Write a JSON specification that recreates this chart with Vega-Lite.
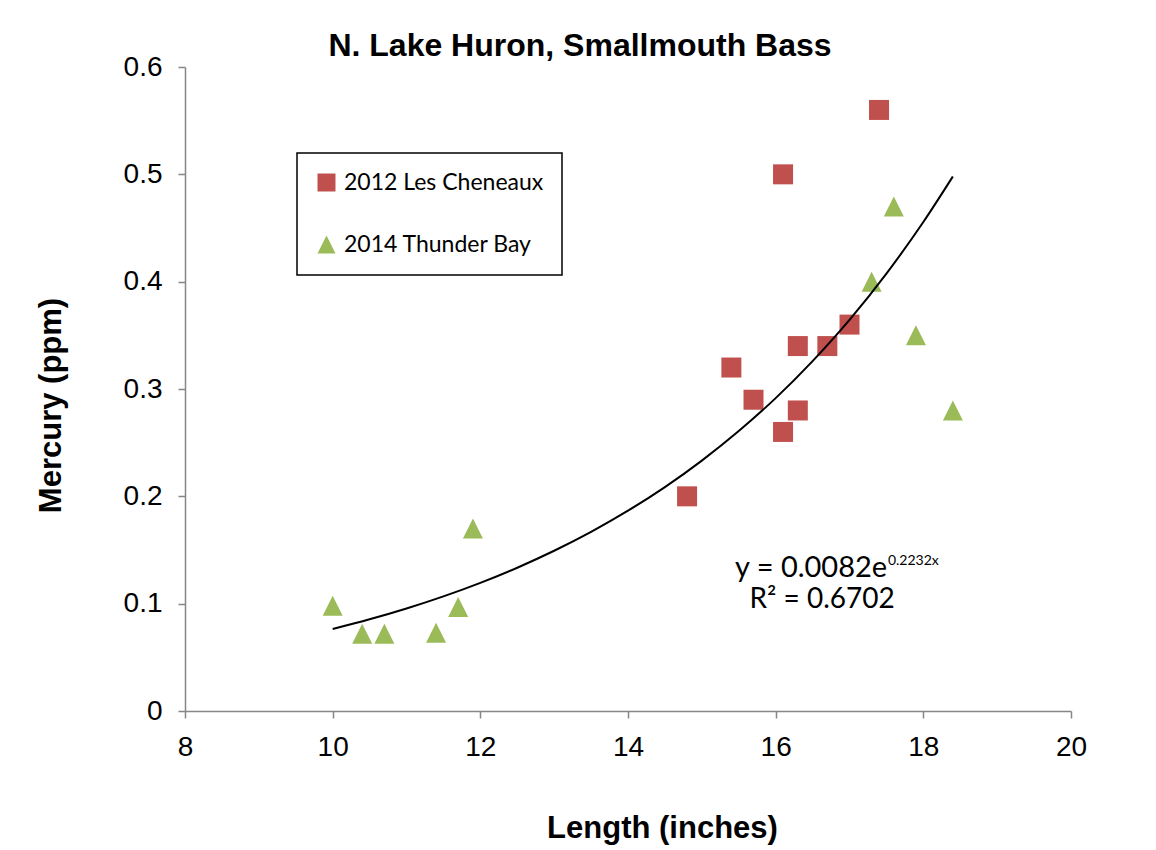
{
  "$schema": "https://vega.github.io/schema/vega-lite/v6.json",
  "width": 886,
  "height": 644,
  "autosize": {"type": "none"},
  "padding": {"left": 185, "top": 67, "right": 85, "bottom": 139},
  "background": "white",
  "title": {
    "text": "N. Lake Huron, Smallmouth Bass",
    "font": "Liberation Sans",
    "fontSize": 32,
    "fontWeight": "bold",
    "color": "black",
    "anchor": "middle",
    "frame": "group",
    "dx": -48,
    "dy": 35,
    "offset": 0,
    "baseline": "alphabetic"
  },
  "datasets": {
    "points": [
      {"series": "2012 Les Cheneaux", "length": 14.8, "mercury": 0.20},
      {"series": "2012 Les Cheneaux", "length": 15.4, "mercury": 0.32},
      {"series": "2012 Les Cheneaux", "length": 15.7, "mercury": 0.29},
      {"series": "2012 Les Cheneaux", "length": 16.1, "mercury": 0.50},
      {"series": "2012 Les Cheneaux", "length": 16.1, "mercury": 0.26},
      {"series": "2012 Les Cheneaux", "length": 16.3, "mercury": 0.34},
      {"series": "2012 Les Cheneaux", "length": 16.3, "mercury": 0.28},
      {"series": "2012 Les Cheneaux", "length": 16.7, "mercury": 0.34},
      {"series": "2012 Les Cheneaux", "length": 17.0, "mercury": 0.36},
      {"series": "2012 Les Cheneaux", "length": 17.4, "mercury": 0.56},
      {"series": "2014 Thunder Bay", "length": 10.0, "mercury": 0.098},
      {"series": "2014 Thunder Bay", "length": 10.4, "mercury": 0.072},
      {"series": "2014 Thunder Bay", "length": 10.7, "mercury": 0.072},
      {"series": "2014 Thunder Bay", "length": 11.4, "mercury": 0.073},
      {"series": "2014 Thunder Bay", "length": 11.7, "mercury": 0.097},
      {"series": "2014 Thunder Bay", "length": 11.9, "mercury": 0.17},
      {"series": "2014 Thunder Bay", "length": 17.3, "mercury": 0.40},
      {"series": "2014 Thunder Bay", "length": 17.6, "mercury": 0.47},
      {"series": "2014 Thunder Bay", "length": 17.9, "mercury": 0.35},
      {"series": "2014 Thunder Bay", "length": 18.4, "mercury": 0.28}
    ],
    "trend": [
      {"length": 10.0, "mercury": 0.0764},
      {"length": 10.5, "mercury": 0.0854},
      {"length": 11.0, "mercury": 0.0955},
      {"length": 11.5, "mercury": 0.1068},
      {"length": 12.0, "mercury": 0.1194},
      {"length": 12.5, "mercury": 0.1335},
      {"length": 13.0, "mercury": 0.1493},
      {"length": 13.5, "mercury": 0.1669},
      {"length": 14.0, "mercury": 0.1866},
      {"length": 14.5, "mercury": 0.2086},
      {"length": 15.0, "mercury": 0.2333},
      {"length": 15.5, "mercury": 0.2608},
      {"length": 16.0, "mercury": 0.2915},
      {"length": 16.5, "mercury": 0.3260},
      {"length": 17.0, "mercury": 0.3644},
      {"length": 17.5, "mercury": 0.4075},
      {"length": 18.0, "mercury": 0.4556},
      {"length": 18.4, "mercury": 0.4980}
    ],
    "one": [{}]
  },
  "layer": [
    {
      "data": {"name": "points"},
      "mark": {"type": "point", "filled": true, "opacity": 1, "size": 400, "strokeWidth": 0},
      "encoding": {
        "x": {
          "field": "length",
          "type": "quantitative",
          "scale": {"domain": [8, 20], "nice": false, "zero": false},
          "axis": {
            "values": [8, 10, 12, 14, 16, 18, 20],
            "format": "d",
            "title": "Length (inches)",
            "titleX": 477,
            "titleY": 126,
            "titleAlign": "center",
            "titleBaseline": "alphabetic"
          }
        },
        "y": {
          "field": "mercury",
          "type": "quantitative",
          "scale": {"domain": [0, 0.6], "nice": false},
          "axis": {
            "values": [0, 0.1, 0.2, 0.3, 0.4, 0.5, 0.6],
            "format": ".1~f",
            "title": "Mercury (ppm)",
            "titleX": -125,
            "titleY": 338,
            "titleAlign": "center",
            "titleBaseline": "alphabetic",
            "labelPadding": 16
          }
        },
        "color": {
          "field": "series",
          "type": "nominal",
          "scale": {"domain": ["2012 Les Cheneaux", "2014 Thunder Bay"], "range": ["#C0504D", "#9BBB59"]},
          "legend": {
            "orient": "none",
            "legendX": 112,
            "legendY": 86,
            "title": null,
            "strokeColor": "black",
            "fillColor": "white",
            "padding": 18,
            "rowPadding": 38,
            "labelFont": "Lato",
            "labelFontSize": 23,
            "labelColor": "black",
            "labelOffset": 6,
            "labelLimit": 400,
            "symbolSize": 324,
            "symbolOpacity": 1,
            "symbolStrokeWidth": 0,
            "direction": "vertical",
            "encode": {"legend": {"update": {"strokeWidth": {"value": 1.5}}}}
          }
        },
        "shape": {
          "field": "series",
          "type": "nominal",
          "scale": {"domain": ["2012 Les Cheneaux", "2014 Thunder Bay"], "range": ["square", "M0,-1L1,1L-1,1Z"]},
          "legend": {
            "orient": "none",
            "legendX": 112,
            "legendY": 86,
            "title": null,
            "strokeColor": "black",
            "fillColor": "white",
            "padding": 18,
            "rowPadding": 38,
            "labelFont": "Lato",
            "labelFontSize": 23,
            "labelColor": "black",
            "labelOffset": 6,
            "labelLimit": 400,
            "symbolSize": 324,
            "symbolOpacity": 1,
            "symbolStrokeWidth": 0,
            "direction": "vertical",
            "encode": {"legend": {"update": {"strokeWidth": {"value": 1.5}}}}
          }
        }
      }
    },
    {
      "data": {"name": "trend"},
      "mark": {"type": "line", "color": "black", "strokeWidth": 2, "interpolate": "monotone"},
      "encoding": {
        "x": {"field": "length", "type": "quantitative"},
        "y": {"field": "mercury", "type": "quantitative"}
      }
    },
    {
      "data": {"name": "one"},
      "mark": {"type": "text", "font": "Lato", "fontSize": 29, "align": "right", "baseline": "alphabetic", "color": "black"},
      "encoding": {
        "x": {"datum": 17.51, "type": "quantitative"},
        "y": {"datum": 0.1248, "type": "quantitative"},
        "text": {"value": "y = 0.0082e"}
      }
    },
    {
      "data": {"name": "one"},
      "mark": {"type": "text", "font": "Lato", "fontSize": 14, "align": "left", "baseline": "alphabetic", "color": "black"},
      "encoding": {
        "x": {"datum": 17.52, "type": "quantitative"},
        "y": {"datum": 0.136, "type": "quantitative"},
        "text": {"value": "0.2232x"}
      }
    },
    {
      "data": {"name": "one"},
      "mark": {"type": "text", "font": "Lato", "fontSize": 28, "align": "center", "baseline": "alphabetic", "color": "black"},
      "encoding": {
        "x": {"datum": 16.63, "type": "quantitative"},
        "y": {"datum": 0.096, "type": "quantitative"},
        "text": {"value": "R² = 0.6702"}
      }
    }
  ],
  "config": {
    "view": {"stroke": null},
    "font": "Liberation Sans",
    "axis": {
      "grid": false,
      "domainColor": "#868686",
      "domainWidth": 1.5,
      "tickColor": "#868686",
      "tickWidth": 1.5,
      "tickSize": 7,
      "labelFont": "Liberation Sans",
      "labelFontSize": 28,
      "labelColor": "black",
      "labelFlush": false,
      "labelOverlap": false,
      "titleFont": "Liberation Sans",
      "titleFontSize": 31,
      "titleFontWeight": "bold",
      "titleColor": "black"
    },
    "axisX": {"labelPadding": 15}
  }
}
